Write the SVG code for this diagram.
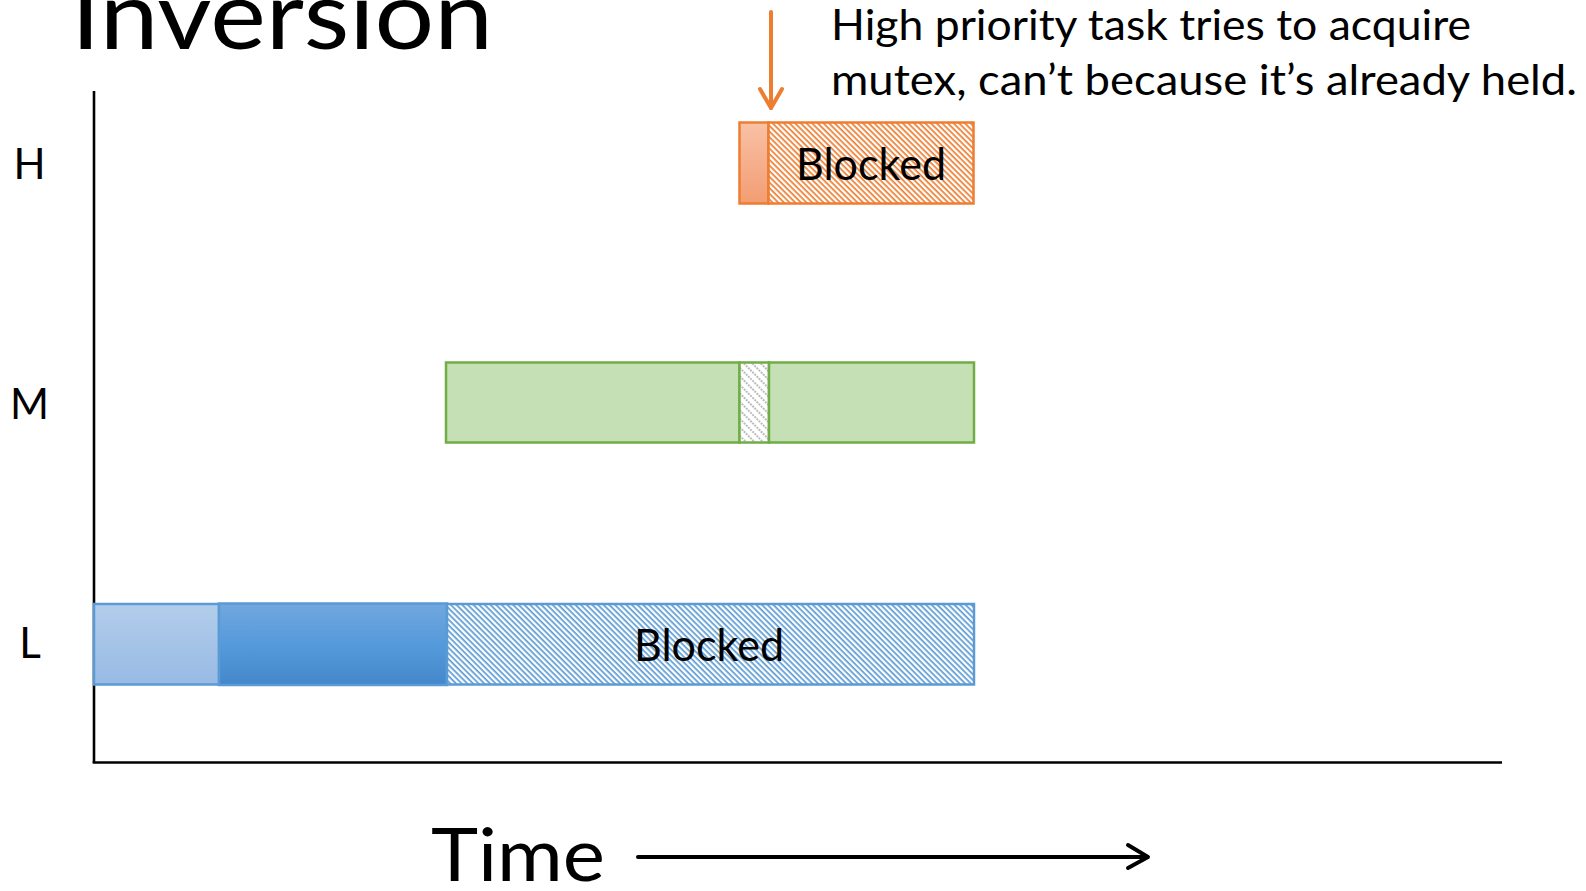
<svg xmlns="http://www.w3.org/2000/svg" width="1586" height="891" viewBox="0 0 1586 891">
<style>
.t{font-family:Lato,"Open Sans","Liberation Sans",sans-serif;fill:#000}
.ax{stroke:#000;stroke-width:2.6;fill:none}
</style>
<defs>
<pattern id="hatchO" patternUnits="userSpaceOnUse" width="4" height="4" patternTransform="rotate(45)">
<rect width="4" height="4" fill="#fff"/><rect width="4" height="1.7" fill="#ED7D31"/>
</pattern>
<pattern id="hatchB" patternUnits="userSpaceOnUse" width="4" height="4" patternTransform="rotate(45)">
<rect width="4" height="4" fill="#fff"/><rect width="4" height="1.7" fill="#5B9BD5"/>
</pattern>
<pattern id="hatchG" patternUnits="userSpaceOnUse" width="6" height="6" patternTransform="rotate(45)">
<rect width="6" height="6" fill="#fff"/><line x1="0" y1="1" x2="6" y2="1" stroke="#A6A6A6" stroke-width="1.6" stroke-dasharray="2 1"/>
</pattern>
<linearGradient id="gO" x1="0" y1="0" x2="0" y2="1"><stop offset="0" stop-color="#F8C1A6"/><stop offset="1" stop-color="#F39D73"/></linearGradient>
<linearGradient id="gBL" x1="0" y1="0" x2="0" y2="1"><stop offset="0" stop-color="#B3CDEB"/><stop offset="1" stop-color="#98BAE4"/></linearGradient>
<linearGradient id="gBD" x1="0" y1="0" x2="0" y2="1"><stop offset="0" stop-color="#72A7DE"/><stop offset="0.5" stop-color="#559ADB"/><stop offset="1" stop-color="#4488CB"/></linearGradient>
</defs>

<g id="title"><text class="t" x="71" y="49" font-size="95" textLength="422" lengthAdjust="spacingAndGlyphs">Inversion</text></g>

<g id="axes">
<line class="ax" x1="94" y1="91" x2="94" y2="763"/>
<line class="ax" x1="92.7" y1="762.5" x2="1502" y2="762.5"/>
</g>

<g id="labels">
<text class="t" x="29.5" y="179" font-size="42" text-anchor="middle">H</text>
<text class="t" x="29.5" y="419" font-size="42" text-anchor="middle">M</text>
<text class="t" x="30" y="658" font-size="42" text-anchor="middle">L</text>
</g>

<g id="task-H">
<rect x="739.5" y="122.5" width="29" height="81" fill="url(#gO)" stroke="#ED7D31" stroke-width="2.5"/>
<rect x="768.5" y="122.5" width="205" height="81" fill="url(#hatchO)" stroke="#ED7D31" stroke-width="2.5"/>
<text class="t" x="871" y="180" font-size="44" text-anchor="middle" textLength="150" lengthAdjust="spacingAndGlyphs">Blocked</text>
</g>

<g id="task-M">
<rect x="446" y="362.5" width="293.5" height="80" fill="#C5E0B4" stroke="#70AD47" stroke-width="2.5"/>
<rect x="739.5" y="362.5" width="29.5" height="80" fill="url(#hatchG)" stroke="#70AD47" stroke-width="2.5"/>
<rect x="769" y="362.5" width="205" height="80" fill="#C5E0B4" stroke="#70AD47" stroke-width="2.5"/>
</g>

<g id="task-L">
<rect x="94" y="604" width="125" height="80.5" fill="url(#gBL)" stroke="#5B9BD5" stroke-width="2.5"/>
<rect x="219" y="603.5" width="228" height="81.5" fill="url(#gBD)" stroke="#5B9BD5" stroke-width="2.5"/>
<rect x="447" y="604" width="527" height="80.5" fill="url(#hatchB)" stroke="#5B9BD5" stroke-width="2.5"/>
<text class="t" x="709" y="661" font-size="44" text-anchor="middle" textLength="150" lengthAdjust="spacingAndGlyphs">Blocked</text>
</g>

<g id="annotation">
<text class="t" x="831" y="40" font-size="42" textLength="640" lengthAdjust="spacingAndGlyphs">High priority task tries to acquire</text>
<text class="t" x="831" y="95" font-size="42" textLength="746" lengthAdjust="spacingAndGlyphs">mutex, can’t because it’s already held.</text>
</g>

<g id="time-label"><text class="t" x="431" y="881" font-size="74" textLength="174" lengthAdjust="spacingAndGlyphs">Time</text></g>

<g id="connectors">
<g stroke="#ED7D31" stroke-width="4" fill="none" stroke-linecap="round" stroke-linejoin="round">
<line x1="771" y1="12" x2="771" y2="108"/>
<polyline points="760,89 771,108 782,89"/>
</g>
<g stroke="#000" stroke-width="4" fill="none" stroke-linecap="round" stroke-linejoin="round">
<line x1="638" y1="857" x2="1147" y2="857"/>
<polyline points="1128,845 1148,857 1128,868"/>
</g>
</g>
</svg>
